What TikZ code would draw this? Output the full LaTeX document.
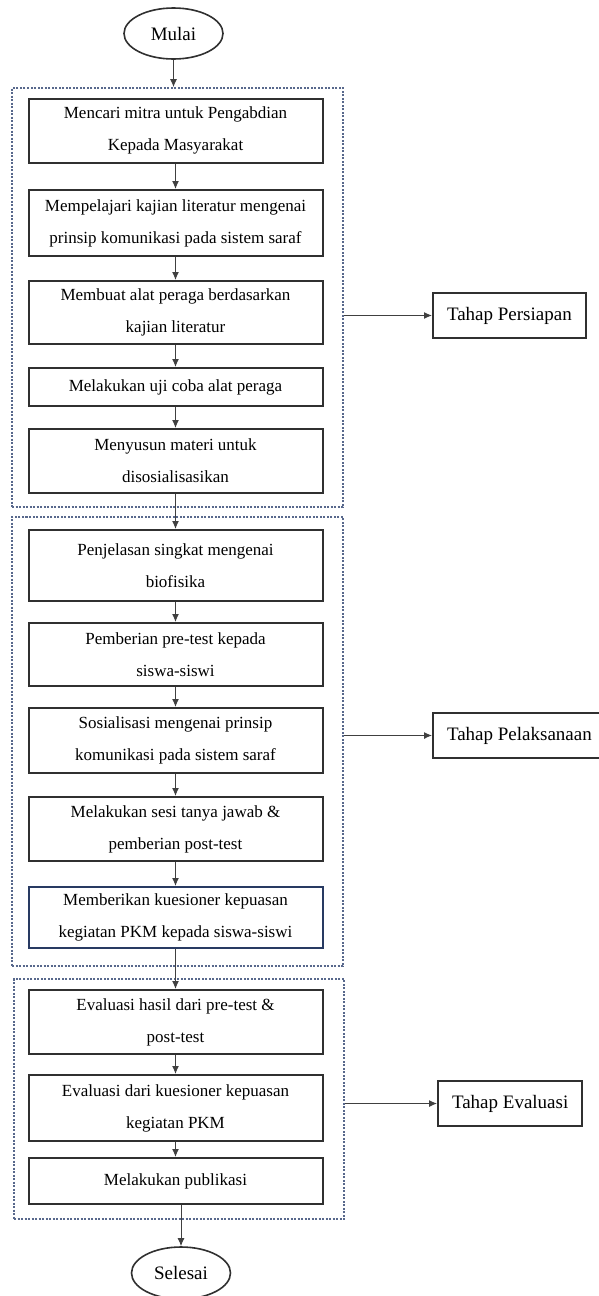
\documentclass[tikz,border=0pt]{standalone}
\usepackage{fontspec}
\setmainfont{Liberation Serif}
\usepackage{xcolor}
\usepackage{tikz}
\usetikzlibrary{arrows.meta, positioning, shapes.geometric}
\definecolor{frameblue}{RGB}{88,104,140}
\definecolor{boxgray}{RGB}{48,48,48}
\definecolor{boxnavy}{RGB}{40,58,98}
\def\boxW{294pt}
\def\boxX{175.5}

\begin{document}
\begin{tikzpicture}[
    x=1pt, y=-1pt,
    >={Latex[length=8pt,width=7pt]},
    stepbox/.style={rectangle, draw=boxgray, line width=2pt, minimum width=\boxW, minimum height=64pt, align=center, inner sep=0pt, font=\fontsize{17}{32}\selectfont},
    phasebox/.style={rectangle, draw=boxgray, line width=2pt, minimum height=45pt, inner xsep=14pt, anchor=west, font=\fontsize{19}{22}\selectfont},
    terminal/.style={ellipse, draw=boxgray, line width=1.6pt, minimum width=99pt, minimum height=51pt, inner sep=0pt, font=\fontsize{19}{22}\selectfont},
    phaseframe/.style={rectangle, draw=frameblue, line width=1.8pt, dash pattern=on 2pt off 1.5pt, inner sep=0pt},
    flow/.style={->, draw=black!75, line width=1pt}
]
\useasboundingbox (0,0) rectangle (599,1296);

\node[terminal] (mulai) at (173.5,33.5) {Mulai};

% Tahap persiapan
\node[phaseframe, minimum width=331pt, minimum height=419pt] (f1) at (177.5,297.5) {};
\node[stepbox] (s1) at (\boxX,130.5) {Mencari mitra untuk Pengabdian\\Kepada Masyarakat};
\node[stepbox, minimum height=66pt] (s2) at (\boxX,223) {Mempelajari kajian literatur mengenai\\prinsip komunikasi pada sistem saraf};
\node[stepbox, minimum height=63pt] (s3) at (\boxX,312.5) {Membuat alat peraga berdasarkan\\kajian literatur};
\node[stepbox, minimum height=38pt] (s4) at (\boxX,387) {Melakukan uji coba alat peraga};
\node[stepbox] (s5) at (\boxX,461) {Menyusun materi untuk\\disosialisasikan};

% Tahap pelaksanaan
\node[phaseframe, minimum width=331pt, minimum height=449pt] (f2) at (177.5,741.5) {};
\node[stepbox, minimum height=71pt] (s6) at (\boxX,565.5) {Penjelasan singkat mengenai\\biofisika};
\node[stepbox, minimum height=63pt] (s7) at (\boxX,654.5) {Pemberian pre-test kepada\\siswa-siswi};
\node[stepbox, minimum height=65pt] (s8) at (\boxX,740.5) {Sosialisasi mengenai prinsip\\komunikasi pada sistem saraf};
\node[stepbox] (s9) at (\boxX,829) {Melakukan sesi tanya jawab \&\\pemberian post-test};
\node[stepbox, draw=boxnavy, minimum height=61pt] (s10) at (\boxX,917.5) {Memberikan kuesioner kepuasan\\kegiatan PKM kepada siswa-siswi};

% Tahap evaluasi
\node[phaseframe, minimum width=330pt, minimum height=240pt] (f3) at (179,1099) {};
\node[stepbox] (s11) at (\boxX,1022) {Evaluasi hasil dari pre-test \&\\post-test};
\node[stepbox, minimum height=66pt] (s12) at (\boxX,1108) {Evaluasi dari kuesioner kepuasan\\kegiatan PKM};
\node[stepbox, minimum height=46pt] (s13) at (\boxX,1181) {Melakukan publikasi};

\node[terminal, minimum height=52pt] (selesai) at (181,1273) {Selesai};

\node[phasebox] (persiapan) at (432,315.5) {Tahap Persiapan};
\node[phasebox] (pelaksanaan) at (432,735.5) {Tahap Pelaksanaan};
\node[phasebox] (evaluasi) at (437,1103.5) {Tahap Evaluasi};

\draw[flow] (mulai) -- (mulai |- f1.north);
\foreach \i [count=\j from 2] in {1,...,12}
    \draw[flow] (s\i) -- (s\j);
\draw[flow] (s13.south -| selesai) -- (selesai);

\draw[flow] (f1.east |- persiapan) -- (persiapan);
\draw[flow] (f2.east |- pelaksanaan) -- (pelaksanaan);
\draw[flow] (f3.east |- evaluasi) -- (evaluasi);
\end{tikzpicture}
\end{document}
